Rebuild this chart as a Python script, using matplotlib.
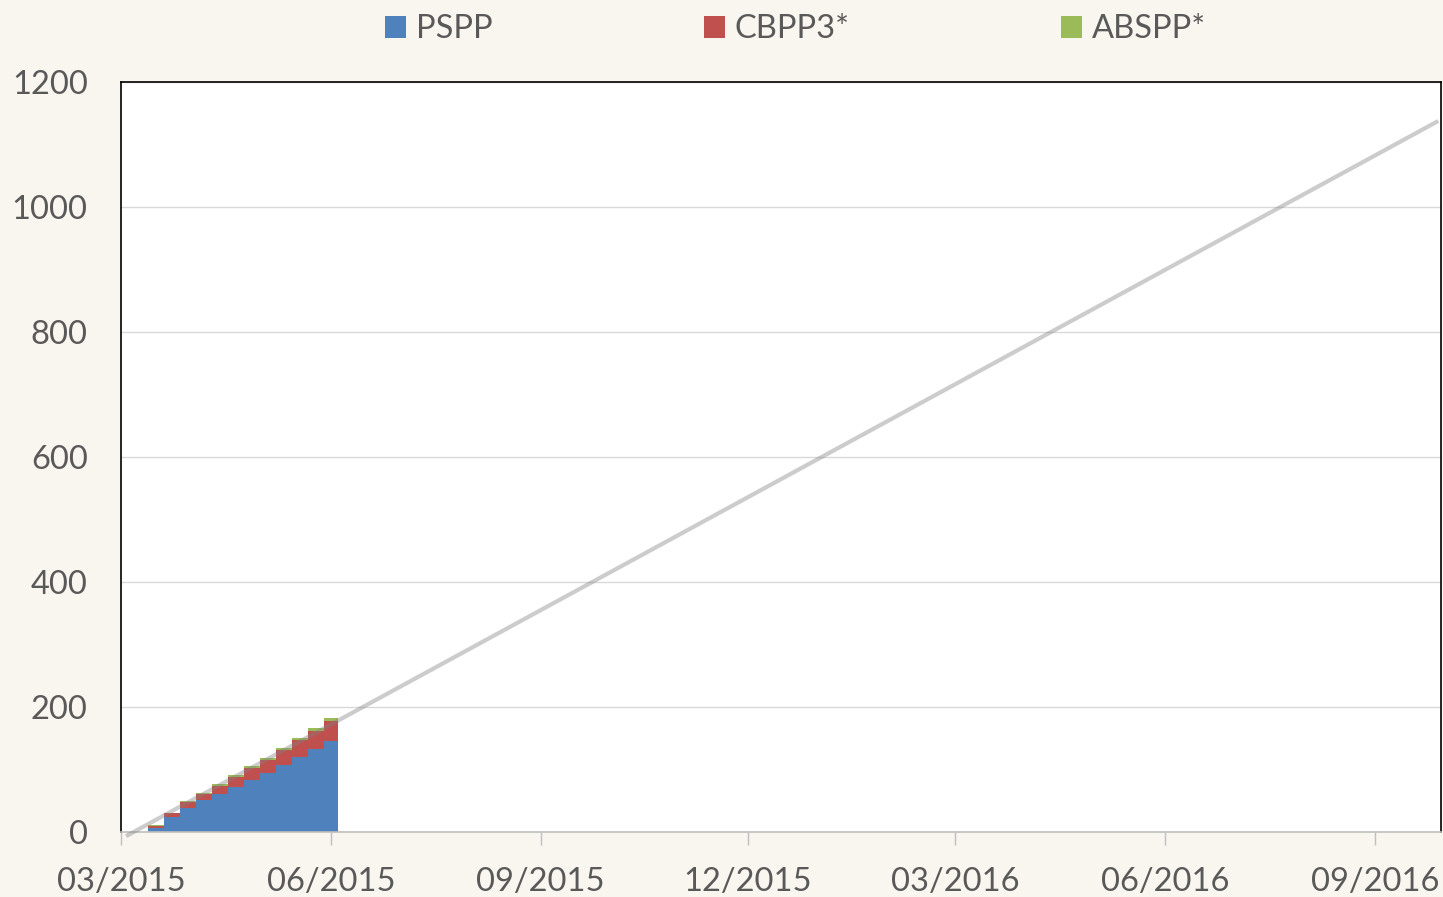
import pandas as pd
import matplotlib.pyplot as plt
import matplotlib.dates as mdates
from matplotlib.patches import Patch

plt.rcParams['font.family'] = ['Lato', 'DejaVu Sans']

# weekly cumulative purchases (EUR bn), stacked
week_dates = ["2015-03-13", "2015-03-20", "2015-03-27", "2015-04-03", "2015-04-10", "2015-04-17",
              "2015-04-24", "2015-05-01", "2015-05-08", "2015-05-15", "2015-05-22", "2015-05-29"]
last_date = "2015-06-04"
pspp = [7, 24, 39, 51, 60, 72, 83, 94, 107, 120, 132, 145]
cbpp3 = [3, 6, 9, 10, 14, 16, 19, 21, 24, 27, 30, 32]
abspp = [1, 1, 2, 2, 2, 3, 3, 3, 4, 4, 4, 5]

# 60bn per month target path
target_dates = ["2015-03-04", "2016-09-28"]
target_values = [-5, 1136]

names = ["PSPP", "CBPP3*", "ABSPP*"]
colors = ["#4f81bd", "#c0504d", "#9bbb59"]

df = pd.DataFrame({"PSPP": pspp, "CBPP3*": cbpp3, "ABSPP*": abspp},
                  index=pd.to_datetime(week_dates))
# hold the last week until the end date
df.loc[pd.Timestamp(last_date)] = df.iloc[-1]
cum = df.cumsum(axis=1)

bg = "#f9f5ef"
txt = "#595959"
fig = plt.figure(figsize=(14.43, 8.97), dpi=100, facecolor=bg)
ax = fig.add_axes([0.0839, 0.0725, 0.9147, 0.8361])
ax.set_facecolor("white")

lower = [0] * len(cum)
for name, c in zip(names, colors):
    ax.fill_between(cum.index, lower, cum[name], step="post", color=c, linewidth=0, zorder=2)
    lower = cum[name].values

ax.plot(pd.to_datetime(target_dates), target_values, color="#808080", alpha=0.4,
        linewidth=3, zorder=3, clip_on=False)

ax.set_ylim(0, 1200)
ax.set_yticks(range(0, 1201, 200))
ax.set_xlim(pd.Timestamp("2015-03-01"), pd.Timestamp("2016-09-30"))
ax.xaxis.set_major_locator(mdates.MonthLocator(bymonth=[3, 6, 9, 12]))
ax.xaxis.set_major_formatter(mdates.DateFormatter("%m/%Y"))
ax.grid(axis="y", color="#d9d9d9", linewidth=1, zorder=1)
ax.set_axisbelow(True)

for s in ["left", "top", "right"]:
    ax.spines[s].set_color("black")
    ax.spines[s].set_linewidth(1.2)
ax.spines["bottom"].set_color("#bfbfbf")
ax.spines["bottom"].set_linewidth(1.2)
ax.tick_params(axis="y", length=0, pad=24, labelsize=23.5, labelcolor=txt)
ax.tick_params(axis="x", length=9, width=1, color="#bfbfbf", pad=16, labelsize=23.5, labelcolor=txt)

handles = [Patch(facecolor=c, edgecolor="none") for c in colors]
leg = ax.legend(handles, names, loc="center", bbox_to_anchor=(0.511, 1.07), ncol=3,
                frameon=False, fontsize=23.5, handlelength=0.62, handleheight=0.62,
                handletextpad=0.3, columnspacing=6.5, labelcolor=txt)

fig.savefig("out.png", dpi=100, facecolor=bg)
